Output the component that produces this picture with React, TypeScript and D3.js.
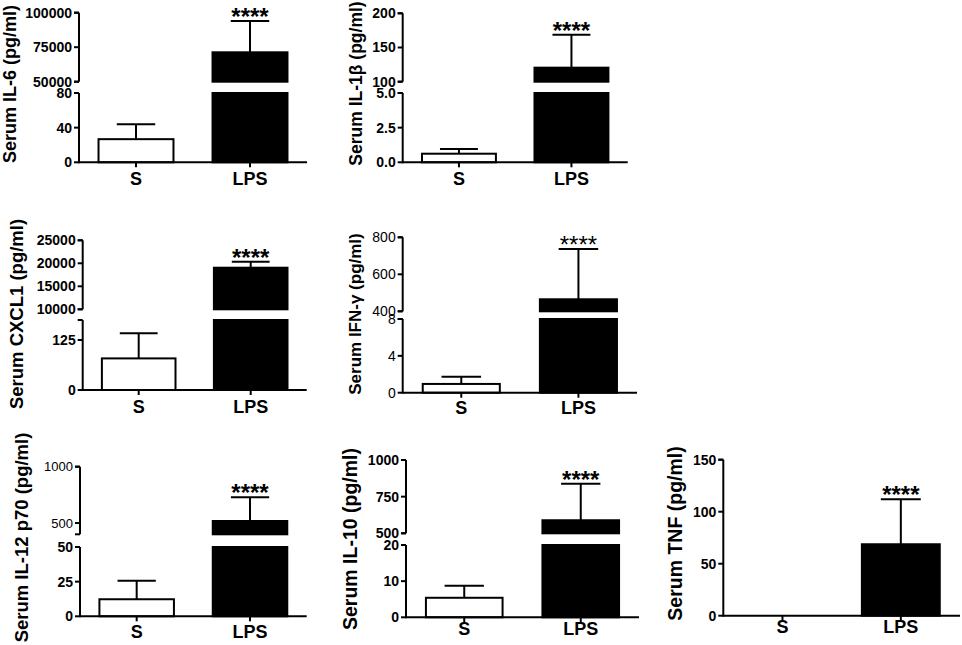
import React from "react";
import * as d3 from "d3";

// ---------- data ----------
const categories = ["S", "LPS"];
const cytokines = ["IL-6", "IL-1β", "CXCL1", "IFN-γ", "IL-12 p70", "IL-10", "TNF"];
const salineMeans = [26.7, 0.62, 79, 0.95, 12.3, 5.4, 0];
const salineSD = [17.3, 0.34, 62.7, 0.79, 13.4, 3.3, 0];
const lpsMeans = [71300, 120.5, 19040, 465, 518, 589, 68.7];
const lpsSD = [22700, 48.2, 1310, 272, 210, 249, 43.3];
const significance = ["****", "****", "****", "****", "****", "****", "****"];
const lowerMax = [80, 5, 175, 8, 50, 20, 150];
const lowerTicks = [[0, 40, 80], [0, 2.5, 5], [0, 125], [0, 4, 8], [0, 25, 50], [0, 10, 20], [0, 50, 100, 150]];
const upperMin = [50000, 100, 10000, 400, 400, 500, null];
const upperMax = [100000, 200, 25000, 800, 1000, 1000, null];
const upperTicks = [[50000, 75000, 100000], [100, 150, 200], [10000, 15000, 20000, 25000], [400, 600, 800], [500, 1000], [500, 750, 1000], []];

// ---------- layout ----------
type Layout = {
  x0: number; x1: number; base: number; lowerTop: number;
  upperBottom: number; upperTop: number;
  titleX: number; titleY: number; titleSize: number; labelDy: number;
  upperWeight: string; lowerWeight: string; upperSize: number; starWeight: string; decimals: number;
};
const layouts: Layout[] = [
  { x0: 79, x1: 307, base: 162.3, lowerTop: 93, upperBottom: 81.7, upperTop: 12.7, titleX: 16, titleY: 84, titleSize: 18, labelDy: 23, upperWeight: "bold", lowerWeight: "bold", upperSize: 14, starWeight: "bold", decimals: 0 },
  { x0: 402.7, x1: 627.7, base: 162.3, lowerTop: 93, upperBottom: 81.7, upperTop: 13.3, titleX: 362, titleY: 83.5, titleSize: 17.5, labelDy: 23, upperWeight: "bold", lowerWeight: "bold", upperSize: 14, starWeight: "bold", decimals: 1 },
  { x0: 82.7, x1: 306.7, base: 390, lowerTop: 320, upperBottom: 309.3, upperTop: 240.3, titleX: 23, titleY: 314, titleSize: 18.5, labelDy: 23, upperWeight: "bold", lowerWeight: "bold", upperSize: 14, starWeight: "bold", decimals: 0 },
  { x0: 402.7, x1: 637, base: 392.7, lowerTop: 319, upperBottom: 311.3, upperTop: 237.3, titleX: 361, titleY: 314, titleSize: 17, labelDy: 21, upperWeight: "normal", lowerWeight: "normal", upperSize: 14, starWeight: "normal", decimals: 0 },
  { x0: 80, x1: 306.7, base: 616.3, lowerTop: 547, upperBottom: 534.3, upperTop: 466.7, titleX: 28, titleY: 537.5, titleSize: 18.5, labelDy: 22, upperWeight: "normal", lowerWeight: "bold", upperSize: 13, starWeight: "bold", decimals: 0 },
  { x0: 406, x1: 639, base: 617.3, lowerTop: 545, upperBottom: 533.3, upperTop: 460, titleX: 357, titleY: 539, titleSize: 19.5, labelDy: 18, upperWeight: "bold", lowerWeight: "bold", upperSize: 14, starWeight: "bold", decimals: 0 },
  { x0: 723.3, x1: 960, base: 615.7, lowerTop: 459.7, upperBottom: 0, upperTop: 0, titleX: 682, titleY: 533.5, titleSize: 19.5, labelDy: 17.5, upperWeight: "bold", lowerWeight: "bold", upperSize: 14, starWeight: "bold", decimals: 0 },
];

const FONT = "'Liberation Sans', Arial, Helvetica, sans-serif";
const SW = 2;

function Panel({ i }: { i: number }) {
  const L = layouts[i];
  const x = d3.scalePoint<string>().domain(categories).range([L.x0, L.x1]).padding(0.5);
  const bw = x.step() * 0.675;
  const yLow = d3.scaleLinear().domain([0, lowerMax[i]]).range([L.base, L.lowerTop]);
  const hasUpper = upperMin[i] !== null;
  const yUp = hasUpper
    ? d3.scaleLinear().domain([upperMin[i] as number, upperMax[i] as number]).range([L.upperBottom, L.upperTop])
    : null;
  const yOf = (v: number) => (v <= lowerMax[i] || !yUp ? yLow(v) : yUp(v));
  const fmt = d3.format(L.decimals ? ".1f" : "d");
  const means = [salineMeans[i], lpsMeans[i]];
  const sds = [salineSD[i], lpsSD[i]];
  const ax = L.x0;

  const bars: React.ReactNode[] = [];
  categories.forEach((c, k) => {
    const cx = x(c) as number;
    const m = means[k];
    const sd = sds[k];
    if (m <= 0) return;
    const fill = k === 0 ? "#fff" : "#000";
    const left = cx - bw / 2 + SW / 2;
    const w = bw - SW;
    if (m <= lowerMax[i] || !yUp) {
      const yt = yLow(m);
      bars.push(<rect key={`b${k}`} x={left} y={yt} width={w} height={L.base - yt} fill={fill} stroke="#000" strokeWidth={SW} />);
    } else {
      const yt = yUp(m);
      bars.push(<rect key={`bl${k}`} x={left} y={L.lowerTop} width={w} height={L.base - L.lowerTop} fill={fill} stroke="#000" strokeWidth={SW} />);
      bars.push(<rect key={`bu${k}`} x={left} y={yt} width={w} height={L.upperBottom - yt} fill={fill} stroke="#000" strokeWidth={SW} />);
    }
    if (sd > 0) {
      const y1 = yOf(m);
      const y2 = yOf(m + sd);
      bars.push(<line key={`e${k}`} x1={cx} x2={cx} y1={y1} y2={y2} stroke="#000" strokeWidth={SW} />);
      bars.push(<line key={`c${k}`} x1={cx - bw / 4} x2={cx + bw / 4} y1={y2} y2={y2} stroke="#000" strokeWidth={SW} />);
    }
    if (k === 1) {
      bars.push(
        <text key="s" x={cx} y={yOf(m + sd) + 4} textAnchor="middle" fontSize={24} fontWeight={L.starWeight} fontFamily={FONT}>
          {significance[i]}
        </text>
      );
    }
  });

  const tickEls: React.ReactNode[] = [];
  const addTick = (y: number, label: string | null, weight: string, size: number, key: string) => {
    tickEls.push(<line key={`t${key}`} x1={ax - 5} x2={ax} y1={y} y2={y} stroke="#000" strokeWidth={SW} />);
    if (label !== null)
      tickEls.push(
        <text key={`l${key}`} x={ax - 7} y={y} dy="0.35em" textAnchor="end" fontSize={size} fontWeight={weight} fontFamily={FONT}>
          {label}
        </text>
      );
  };
  lowerTicks[i].forEach((v, j) => addTick(yLow(v), fmt(v), L.lowerWeight, 14, `lo${j}`));
  addTick(L.lowerTop, null, L.lowerWeight, 14, "loEnd");
  if (yUp) {
    upperTicks[i].forEach((v, j) => addTick(yUp(v), d3.format("d")(v), L.upperWeight, L.upperSize, `up${j}`));
    addTick(L.upperBottom, null, L.upperWeight, 14, "upEnd");
    addTick(L.upperTop, null, L.upperWeight, 14, "upTop");
  }

  return (
    <g>
      {bars}
      <line x1={ax} x2={ax} y1={L.base + SW / 2} y2={L.lowerTop} stroke="#000" strokeWidth={SW} />
      {yUp && <line x1={ax} x2={ax} y1={L.upperBottom} y2={L.upperTop} stroke="#000" strokeWidth={SW} />}
      <line x1={ax} x2={L.x1} y1={L.base} y2={L.base} stroke="#000" strokeWidth={SW} />
      {tickEls}
      {categories.map((c) => (
        <g key={c}>
          <line x1={x(c) as number} x2={x(c) as number} y1={L.base} y2={L.base + 5} stroke="#000" strokeWidth={SW} />
          <text x={x(c) as number} y={L.base + L.labelDy} textAnchor="middle" fontSize={18} fontWeight="bold" fontFamily={FONT}>
            {c}
          </text>
        </g>
      ))}
      <text
        transform={`translate(${L.titleX},${L.titleY}) rotate(-90)`}
        textAnchor="middle"
        fontSize={L.titleSize}
        fontWeight="bold"
        fontFamily={FONT}
      >
        {`Serum ${cytokines[i]} (pg/ml)`}
      </text>
    </g>
  );
}

export default function App() {
  return (
    <svg width={962} height={645} style={{ position: "absolute", left: 0, top: 0, display: "block", background: "#fff" }}>
      <rect width={962} height={645} fill="#fff" />
      {cytokines.map((_, i) => (
        <Panel key={i} i={i} />
      ))}
    </svg>
  );
}
